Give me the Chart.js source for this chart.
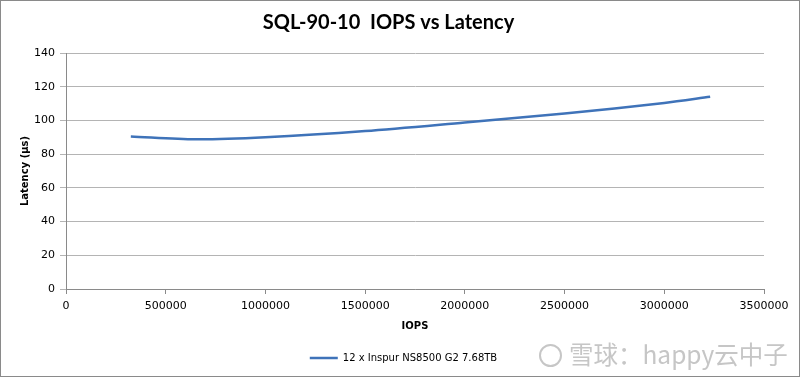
<!DOCTYPE html>
<html>
<head>
<meta charset="utf-8">
<script src="https://cdn.jsdelivr.net/npm/chart.js@4"></script>
<style>
  html, body { margin: 0; padding: 0; background: #fff; }
  #wrap { position: relative; width: 800px; height: 377px; box-sizing: border-box; border: 1px solid #8a8a8a; }
  #chart { display: block; }
  #mark { position: absolute; left: 538px; top: 338px; font-family: "Noto Sans CJK SC", sans-serif; font-size: 24.5px; color: #c6c6c6; white-space: nowrap; line-height: 30px; }
  #mark .logo { display: inline-block; width: 19px; height: 19px; border: 2px solid #c6c6c6; border-radius: 50%; vertical-align: -3px; margin-right: 7px; }
</style>
</head>
<body>
<div id="wrap">
  <canvas id="chart" width="798" height="375"></canvas>
  <div id="mark"><span class="logo"></span>雪球：happy云中子</div>
</div>
<script>
// values
const iops = [325000, 650000, 1000000, 1500000, 2000000, 2500000, 3000000, 3230000];
const latency = [90.5, 88.8, 90, 93.7, 98.8, 104.1, 110.4, 114];
const seriesName = '12 x Inspur NS8500 G2 7.68TB';
const chartTitle = 'SQL-90-10  IOPS vs Latency';

const tickFont = { family: 'DejaVu Sans', size: 11 };
const axisTitleFont = { family: 'DejaVu Sans', size: 10, weight: 'bold' };

// nudge the legend a little to the right, as in the original
const legendShift = {
  id: 'legendShift',
  afterLayout(chart) {
    if (chart.legend) {
      chart.legend.left += 15;
      chart.legend.right += 15;
    }
  }
};

const ctx = document.getElementById('chart');
new Chart(ctx, {
  type: 'line',
  data: {
    datasets: [{
      label: seriesName,
      data: iops.map((x, i) => ({ x: x, y: latency[i] })),
      borderColor: '#3f73b9',
      backgroundColor: '#3f73b9',
      borderWidth: 2.5,
      pointRadius: 0,
      tension: 0.3,
      fill: false
    }]
  },
  options: {
    responsive: false,
    animation: false,
    layout: { padding: { left: 12, right: 35, top: 0, bottom: 3 } },
    plugins: {
      title: {
        display: true,
        text: chartTitle,
        color: '#000',
        font: { family: 'Lato', size: 20, weight: 'bold' },
        padding: { top: 10, bottom: 18 }
      },
      legend: {
        position: 'bottom',
        labels: {
          usePointStyle: true,
          pointStyle: 'line',
          pointStyleWidth: 28,
          color: '#000',
          font: { family: 'DejaVu Sans', size: 10 },
          padding: 15
        }
      },
      tooltip: { enabled: false }
    },
    scales: {
      x: {
        type: 'linear',
        min: 0,
        max: 3500000,
        ticks: { stepSize: 500000, color: '#000', font: tickFont, maxRotation: 0, padding: 6,
          callback: v => String(v) },
        grid: { drawOnChartArea: false, drawTicks: true, tickLength: 5, color: '#8a8a8a' },
        border: { color: '#8a8a8a' },
        title: { display: true, text: 'IOPS', color: '#000', font: axisTitleFont, padding: { top: 8, bottom: 6 } },
        afterFit: s => { s.height = 49; }
      },
      y: {
        min: 0,
        max: 140,
        ticks: { stepSize: 20, color: '#000', font: tickFont, padding: 5 },
        grid: { color: '#b4b4b4', lineWidth: 1, drawTicks: true, tickLength: 6 },
        border: { color: '#8a8a8a' },
        title: { display: true, text: 'Latency (μs)', color: '#000', font: axisTitleFont, padding: { top: 6, bottom: 0 } },
        afterFit: s => { s.width = 53; }
      }
    }
  },
  plugins: [legendShift]
});
</script>
</body>
</html>
